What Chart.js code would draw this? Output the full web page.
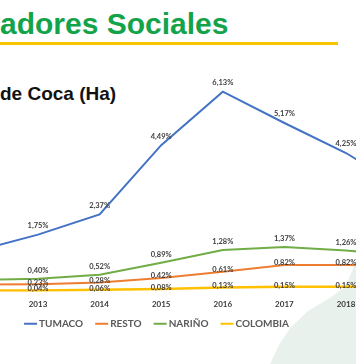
<!DOCTYPE html>
<html>
<head>
<meta charset="utf-8">
<script src="https://cdn.jsdelivr.net/npm/chart.js@4.4.0/dist/chart.umd.min.js"></script>
<style>
  html, body { margin:0; padding:0; width:356px; height:364px; overflow:hidden; background:#ffffff; position:relative; }
  #blob { position:absolute; left:0; top:0; width:356px; height:364px; background:#e8f1eb;
          clip-path: polygon(270px 364px, 279px 345px, 290px 328px, 308px 311px, 330px 298px, 345px 287px, 356px 262px, 356px 364px); }
  #title { position:absolute; left:0; top:8.6px; font:bold 30px "Liberation Sans", Arial, sans-serif; line-height:30px; color:#13a34b; white-space:nowrap; }
  #bar { position:absolute; left:0; top:42px; width:338px; height:3px; background:#f6c500; }
  #sub { position:absolute; left:0; top:84px; font:bold 19px "Liberation Sans", Arial, sans-serif; line-height:19px; color:#111; white-space:nowrap; }
  #c { position:absolute; left:-130px; top:50px; }
</style>
</head>
<body>
<div id="blob"></div>
<div id="title">adores Sociales</div>
<div id="bar"></div>
<div id="sub">de Coca (Ha)</div>
<canvas id="c" width="571" height="314"></canvas>
<script>
const years    = [2012, 2013, 2014, 2015, 2016, 2017, 2018, 2019];
const tumaco   = [1.25, 1.75, 2.37, 4.49, 6.13, 5.17, 4.25, 3.10];
const resto    = [0.22, 0.23, 0.28, 0.42, 0.61, 0.82, 0.82, 0.80];
const narino   = [0.36, 0.40, 0.52, 0.89, 1.28, 1.37, 1.26, 1.10];
const colombia = [0.04, 0.04, 0.06, 0.08, 0.13, 0.15, 0.15, 0.15];
const seriesNames = ['TUMACO', 'RESTO', 'NARIÑO', 'COLOMBIA'];

const toPts = vals => years.map((yr, i) => ({ x: yr, y: vals[i] }));

const labelOffsets = [-9, -2, -8.5, -1.5];
const colors = ['#4472c4', '#ed7d31', '#70ad47', '#ffc000'];
const allVals = [tumaco, resto, narino, colombia];

// legend line glyph: drawn to sit close to the label text
function legendGlyph(color) {
  const c = document.createElement('canvas');
  c.width = 22; c.height = 4;
  const g = c.getContext('2d');
  g.strokeStyle = color; g.lineWidth = 2;
  g.beginPath(); g.moveTo(7, 2); g.lineTo(20, 2); g.stroke();
  return c;
}

const dataLabels = {
  id: 'dataLabels',
  afterDatasetsDraw(chart) {
    const ctx = chart.ctx;
    ctx.save();
    ctx.font = 'bold 7.5px Lato, "Liberation Sans", sans-serif';
    ctx.fillStyle = '#404040';
    ctx.textAlign = 'center';
    ctx.textBaseline = 'middle';
    chart.data.datasets.forEach((ds, di) => {
      const meta = chart.getDatasetMeta(di);
      meta.data.forEach((pt, i) => {
        const v = ds.data[i].y;
        const txt = v.toFixed(2).replace('.', ',') + '%';
        ctx.fillText(txt, pt.x, pt.y + labelOffsets[di]);
      });
    });
    ctx.restore();
  }
};

const legendShift = {
  id: 'legendShift',
  afterLayout(chart) {
    const lg = chart.legend;
    if (lg) { lg.top -= 9; lg.bottom -= 9; }
  }
};

new Chart(document.getElementById('c'), {
  type: 'line',
  data: {
    datasets: allVals.map((vals, i) => ({
      label: seriesNames[i],
      data: toPts(vals),
      borderColor: colors[i],
      backgroundColor: colors[i],
      borderWidth: i === 3 ? 2.5 : 2,
      pointRadius: 0,
      pointHoverRadius: 0,
      pointStyle: legendGlyph(colors[i]),
      tension: 0,
      fill: false
    }))
  },
  options: {
    responsive: false,
    animation: false,
    events: [],
    layout: { padding: { left: 0, right: 0, top: 0, bottom: 16.3 } },
    scales: {
      x: {
        type: 'linear',
        min: 2010.2727,
        max: 2019.5422,
        grid: { display: false, drawTicks: false },
        border: { display: false },
        afterBuildTicks: (scale) => { scale.ticks = years.map(v => ({ value: v })); },
        ticks: {
          autoSkip: false,
          maxRotation: 0,
          padding: 10.6,
          color: '#3a3a3a',
          font: { family: 'Lato, "Liberation Sans", sans-serif', size: 8, weight: 'bold', lineHeight: 0.6 },
          callback: (v) => String(v)
        }
      },
      y: {
        display: false,
        min: 0,
        max: 7.407
      }
    },
    plugins: {
      legend: {
        position: 'bottom',
        labels: {
          usePointStyle: true,
          pointStyleWidth: 12,
          padding: 10,
          color: '#595959',
          font: { family: 'Lato, "Liberation Sans", sans-serif', size: 10, weight: 'bold' }
        }
      },
      tooltip: { enabled: false }
    }
  },
  plugins: [dataLabels, legendShift]
});
</script>
</body>
</html>
